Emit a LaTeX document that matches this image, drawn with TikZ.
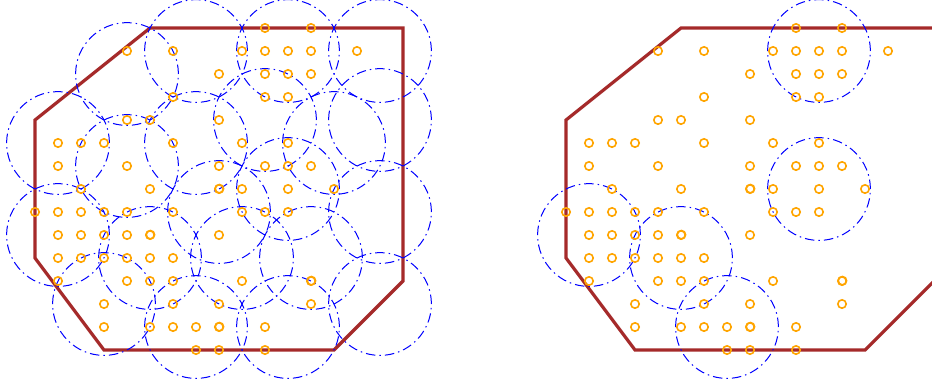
\documentclass[tikz,border=0pt]{standalone}
\definecolor{octbrown}{HTML}{A52A2A}
\definecolor{ptorange}{HTML}{FFA500}
\tikzset{
  oct/.style={draw=octbrown, line width=3.2pt, line join=miter},
  cover/.style={draw=blue, line width=1pt, dash pattern=on 9.5pt off 4pt on 1.5pt off 4pt},
  samplept/.style={draw=ptorange, line width=1.6pt},
  panel/.style={x=23pt, y=-23pt},
}
\newcommand\allpoints{10/0,12/0,
4/1,6/1,9/1,10/1,11/1,12/1,14/1,
8/2,10/2,11/2,12/2,
6/3,10/3,11/3,
4/4,5/4,8/4,
1/5,2/5,3/5,6/5,9/5,11/5,
1/6,4/6,8/6,10/6,11/6,12/6,
2/7,5/7,8/7,9/7,11/7,13/7,
0/8,1/8,2/8,3/8,4/8,6/8,9/8,10/8,11/8,
1/9,2/9,3/9,4/9,5/9,8/9,
1/10,2/10,3/10,4/10,5/10,6/10,
1/11,4/11,5/11,6/11,9/11,12/11,
3/12,6/12,8/12,12/12,
3/13,5/13,6/13,7/13,8/13,10/13,
7/14,8/14,10/14}
\newcommand\duppoints{5/9,8/13,12/11,8/7}
\newcommand\drawpanel[1]{%
  \draw[oct] (5,0) -- (16,0) -- (16,11) -- (13,14) -- (3,14) -- (0,10) -- (0,4) -- cycle;
  \foreach \cx/\cy in {#1} {\draw[cover] (\cx,\cy) circle[radius=51.4pt];}
  \foreach \px/\py in \allpoints {\draw[samplept] (\px,\py) circle[radius=4.2pt];}
  \foreach \px/\py in \duppoints {\draw[samplept] ([shift={(0.4pt,0.3pt)}]\px,\py) circle[radius=4.2pt];}
}
\begin{document}
\begin{tikzpicture}
  \clip (0pt,0pt) rectangle (932pt,-389pt);
  \fill[white] (0pt,0pt) rectangle (932pt,-389pt);
  \begin{scope}[panel, shift={(35pt,-28pt)}]
    \drawpanel{4/2,7/1,11/1,15/1,1/5,4/6,7/5,10/4,13/5,15/4,11/7,8/8,1/9,5/10,9/10,12/10,15/8,3/12,7/13,11/13,15/12}
  \end{scope}
  \begin{scope}[panel, shift={(566pt,-28pt)}]
    \drawpanel{11/1,11/7,1/9,5/10,7/13}
  \end{scope}
\end{tikzpicture}
\end{document}
